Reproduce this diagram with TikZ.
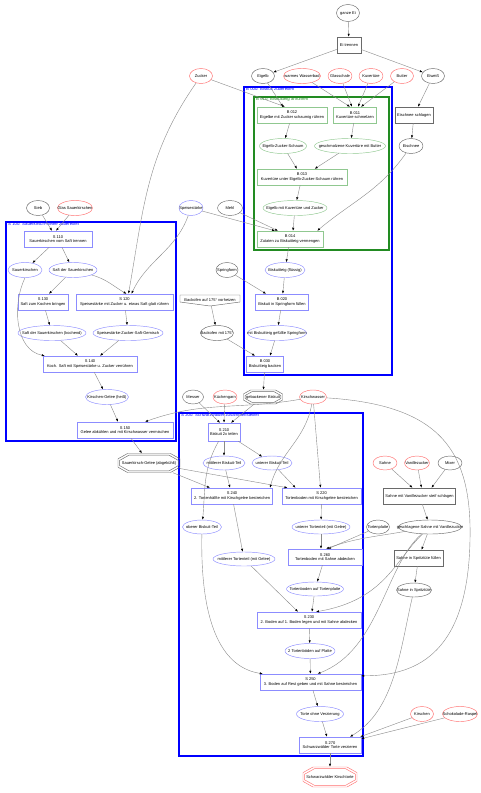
\documentclass[tikz,border=0pt]{standalone}
\usepackage{fontspec}
\setmainfont{Liberation Sans}
\usetikzlibrary{shapes.geometric,arrows.meta}
\definecolor{cblue}{HTML}{0000FF}
\definecolor{nblue}{HTML}{8C8CFF}
\definecolor{cgreen}{HTML}{228B22}
\definecolor{ngreen}{HTML}{90C890}
\definecolor{nred}{HTML}{FF7070}
\definecolor{ngray}{HTML}{6A6A6A}
\definecolor{egray}{HTML}{8A8A8A}
\newcommand\mz[1]{\makebox[0pt]{#1}}
\newcommand\dococt[7]{%
  \node[base, minimum width=#4pt, minimum height=#5pt] (#1) at (#2,#3) {#7};
  \begin{scope}[shift={(#2,#3)}]
    \pgfmathsetmacro\octhw{#4/2}\pgfmathsetmacro\octhh{#5/2}%
    \pgfmathsetmacro\octcx{#5*0.5}\pgfmathsetmacro\octcy{#5*0.28}%
    \draw[#6, line width=0.45pt] (-\octhw+\octcx,-\octhh)--(\octhw-\octcx,-\octhh)--(\octhw,-\octhh+\octcy)--(\octhw,\octhh-\octcy)--(\octhw-\octcx,\octhh)--(-\octhw+\octcx,\octhh)--(-\octhw,\octhh-\octcy)--(-\octhw,-\octhh+\octcy)--cycle;
    \pgfmathsetmacro\octhw{#4/2-1.6}\pgfmathsetmacro\octhh{#5/2-1.6}%
    \draw[#6, line width=0.45pt] (-\octhw+\octcx,-\octhh)--(\octhw-\octcx,-\octhh)--(\octhw,-\octhh+\octcy)--(\octhw,\octhh-\octcy)--(\octhw-\octcx,\octhh)--(-\octhw+\octcx,\octhh)--(-\octhw,\octhh-\octcy)--(-\octhw,-\octhh+\octcy)--cycle;
  \end{scope}}
\begin{document}
\begin{tikzpicture}[x=1pt,y=-1pt,
 base/.style={font=\fontsize{4}{4.6}\selectfont, inner sep=0pt, line width=0.45pt},
 el/.style={base, ellipse, draw=#1, minimum height=15pt},
 bx/.style={base, rectangle, draw=#1, minimum height=16pt, align=center, inner xsep=2pt},
 e/.style={draw=egray, line width=0.4pt, -{Latex[length=3pt,width=2.2pt,color=black]}},
 cl/.style={line width=1.3pt, draw=#1},
 cll/.style={base, font=\fontsize{4.3}{5}\selectfont, anchor=north west, text=#1},
]
\useasboundingbox[fill=white] (0,0) rectangle (480,793);

% clusters
\draw[cl=cblue] (244,87) rectangle (392,375);
\draw[cl=cgreen] (254,97) rectangle (389,250);
\draw[cl=cblue] (6,222) rectangle (176,441);
\draw[cl=cblue] (179,413) rectangle (363,756);
\node[cll=cblue] (lb000) at (246,87.5) {B 000: Biskuit zubereiten};
\node[cll=cgreen] (lb010) at (256,97.5) {B 010: Biskuitteig anrühren};
\node[cll=cblue] (ls100) at (8,222.5) {S 100: Sauerkirsch-Gelee zubereiten};
\node[cll=cblue] (ls200) at (181,413.5) {S 200: Schwarzwälder zusammenstellen};

% top
\node[el=ngray, minimum width=23pt, minimum height=17pt] (ganzeEi) at (348,13) {\mz{ganze Ei}};
\node[bx=ngray, minimum width=24pt] (eitrennen) at (349,45) {Ei trennen};
\node[el=nred, minimum width=23pt] (zucker) at (201,76) {\mz{Zucker}};
\node[el=ngray, minimum width=23pt] (eigelb) at (263,76) {\mz{Eigelb}};
\node[el=nred, minimum width=37pt] (wasserbad) at (302,76) {\mz{warmes Wasserbad}};
\node[el=nred, minimum width=24pt] (glasschale) at (340,76) {\mz{Glasschale}};
\node[el=nred, minimum width=24pt] (kuvert) at (371,76) {\mz{Kuvertüre}};
\node[el=nred, minimum width=23pt] (butter) at (402,76) {\mz{Butter}};
\node[el=ngray, minimum width=23pt] (eiweiss) at (433,76) {\mz{Eiweiß}};
\node[bx=ngray, minimum width=33pt] (eschl) at (414,115) {Eischnee schlagen};
\node[el=ngray, minimum width=24pt] (eischnee) at (411,146) {\mz{Eischnee}};

% B 010
\node[bx=ngreen, minimum width=70pt] (b012) at (292,115) {B 012\\Eigelbe mit Zucker schaumig rühren};
\node[bx=ngreen, minimum width=43pt] (b011) at (355,115) {B 011\\Kuvertüre schmelzen};
\node[el=ngreen, minimum width=47pt] (ezs) at (283,146) {\mz{Eigelb-Zucker-Schaum}};
\node[el=ngreen, minimum width=71pt] (gkb) at (350,146) {\mz{geschmolzene Kuvertüre mit Butter}};
\node[bx=ngreen, minimum width=90pt] (b013) at (302,177) {B 013\\Kuvertüre unter Eigelb-Zucker-Schaum rühren};
\node[el=ngreen, minimum width=64pt] (emkz) at (295,208) {\mz{Eigelb mit Kuvertüre und Zucker}};
\node[bx=ngreen, minimum width=66pt] (b014) at (290,239) {B 014\\Zutaten zu Biskuitteig vermengen};

% B 000 rest
\node[el=nblue, minimum width=24pt] (speisest) at (191,208) {\mz{Speisestärke}};
\node[el=ngray, minimum width=25pt] (mehl) at (230,208) {\mz{Mehl}};
\node[el=nblue, minimum width=40pt] (bfl) at (285,270) {\mz{Biskuitteig (flüssig)}};
\node[el=ngray, minimum width=22pt] (springform) at (227,270) {\mz{Springform}};
\node[bx=nblue, minimum width=53pt] (b020) at (282,302) {B 020\\Biskuit in Springform füllen};
\node[base, minimum width=60pt, minimum height=12pt] (backofenvor) at (210,300) {Backofen auf 175° vorheizen};
\draw[ngray, line width=0.45pt] (180,295)--(240,295)--(240,302)--(210,306)--(180,302)--cycle;
\node[el=ngray, minimum width=33pt] (backofen175) at (217,333) {\mz{Backofen mit 175°}};
\node[el=nblue, minimum width=59pt] (mbgs) at (277,333) {\mz{mit Biskuitteig gefüllte Springform}};
\node[bx=nblue, minimum width=37pt] (b030) at (265,364) {B 030\\Biskuitteig backen};
\dococt{gebBisk}{263}{397}{39}{14}{ngray}{gebackener Biskuit}

% S 100
\node[el=ngray, minimum width=23pt] (sieb) at (38,208) {\mz{Sieb}};
\node[el=nred, minimum width=35pt] (glas) at (75,208) {\mz{Glas Sauerkirschen}};
\node[bx=nblue, minimum width=68pt] (s110) at (58,239) {S 110\\Sauerkirschen vom Saft trennen};
\node[el=nblue, minimum width=34pt] (sauerk) at (25,270) {\mz{Sauerkirschen}};
\node[el=nblue, minimum width=48pt] (sds) at (73,270) {\mz{Saft der Sauerkirschen}};
\node[bx=nblue, minimum width=50pt] (s130) at (43,302) {S 130\\Saft zum Kochen bringen};
\node[bx=nblue, minimum width=97pt] (s120) at (124.5,302) {S 120\\Speisestärke mit Zucker u. etwas Saft glatt rühren};
\node[el=nblue, minimum width=68pt] (sdsk) at (52,333) {\mz{Saft der Sauerkirschen (kochend)}};
\node[el=nblue, minimum width=70pt] (szsg) at (128,333) {\mz{Speisestärke-Zucker-Saft-Gemisch}};
\node[bx=nblue, minimum width=94pt] (s140) at (90,364) {S 140\\Koch. Saft mit Speisestärke u. Zucker verrühren};
\node[el=nblue, minimum width=43pt] (kgh) at (107,397) {\mz{Kirschen-Gelee (heiß)}};
\node[bx=nblue, minimum width=96pt] (s150) at (125,430) {S 150\\Gelee abkühlen und mit Kirschwasser vermischen};
\dococt{sga}{149}{463}{62}{19}{ngray}{Sauerkirsch-Gelee (abgekühlt)}

% row 397
\node[el=ngray, minimum width=21pt, minimum height=14pt] (messer) at (193,397) {\mz{Messer}};
\node[el=nred, minimum width=24pt, minimum height=14pt] (kuechengarn) at (225,397) {\mz{Küchengarn}};
\node[el=nred, minimum width=27pt, minimum height=14pt] (kirschwasser) at (313,397) {\mz{Kirschwasser}};

% S 200
\node[bx=nblue, minimum width=32pt, minimum height=18pt] (s210) at (224,432) {S 210\\Biskuit 2x teilen};
\node[el=nblue, minimum width=42pt, minimum height=14pt] (mbt) at (224,463) {\mz{mittlerer Biskuit-Teil}};
\node[el=nblue, minimum width=40pt, minimum height=14pt] (ubt) at (272,463) {\mz{unterer Biskuit-Teil}};
\node[bx=nblue, minimum width=81pt] (s240) at (232,496) {S 240\\2. Tortenhälfte mit Kirschgelee bestreichen};
\node[bx=nblue, minimum width=79pt] (s220) at (321.5,496) {S 220\\Tortenboden mit Kirschgelee bestreichen};
\node[el=nblue, minimum width=39pt, minimum height=14pt] (obt) at (202,527) {\mz{oberer Biskuit-Teil}};
\node[el=nblue, minimum width=58pt, minimum height=14pt] (utt) at (321,527) {\mz{unterer Tortenteil (mit Gelee)}};
\node[el=ngray, minimum width=23pt, minimum height=14pt] (tortenplatte) at (378,527) {\mz{Tortenplatte}};
\node[el=ngray, minimum width=63pt, minimum height=14pt] (gsv) at (430,527) {\mz{geschlagene Sahne mit Vanillezucker}};
\node[bx=nblue, minimum width=74pt] (s260) at (325,557) {S 260\\Tortenboden mit Sahne abdecken};
\node[el=nblue, minimum width=62pt, minimum height=14pt] (mtt) at (244,559) {\mz{mittlerer Tortenteil (mit Gelee)}};
\node[el=nblue, minimum width=57pt, minimum height=14pt] (tat) at (315,589) {\mz{Tortenboden auf Tortenplatte}};
\node[el=nred, minimum width=24pt, minimum height=14pt] (sahne) at (385,463) {\mz{Sahne}};
\node[el=nred, minimum width=25pt, minimum height=14pt] (vanille) at (417,463) {\mz{Vanillezucker}};
\node[el=ngray, minimum width=24pt, minimum height=14pt] (mixer) at (450,463) {\mz{Mixer}};
\node[bx=ngray, minimum width=55pt] (ssv) at (419.5,496) {Sahne mit Vanillezucker steif schlagen};
\node[bx=ngray, minimum width=43pt] (sisf) at (418.5,558) {Sahne in Spritztüte füllen};
\node[el=ngray, minimum width=35pt, minimum height=14pt] (sis) at (414,590) {\mz{Sahne in Spritztüte}};
\node[bx=nblue, minimum width=104pt] (s230) at (309,620) {S 230\\2. Boden auf 1. Boden legen und mit Sahne abdecken};
\node[el=nblue, minimum width=50pt] (zta) at (310,651) {\mz{2 Tortenböden auf Platte}};
\node[bx=nblue, minimum width=101pt] (s250) at (310.5,682) {S 250\\3. Boden auf Rest geben und mit Sahne bestreichen};
\node[el=nblue, minimum width=47pt] (tov) at (320,714) {\mz{Torte ohne Verzierung}};
\node[el=nred, minimum width=23pt] (kirschen) at (422,714) {\mz{Kirschen}};
\node[el=nred, minimum width=35pt] (schoko) at (460,714) {\mz{Schokolade-Raspel}};
\node[bx=nblue, minimum width=62pt] (s270) at (330,745) {S 270\\Schwarzwälder Torte verzieren};
\dococt{swk}{330}{777}{54}{20}{nred}{Schwarzwälder Kirschtorte}

% edges top
\draw[e] (ganzeEi) -- (eitrennen);
\draw[e] (eitrennen) -- (eigelb);
\draw[e] (eitrennen) -- (eiweiss);
\draw[e] (eiweiss) -- (eschl);
\draw[e] (eschl) -- (eischnee);
\draw[e] (eischnee) to[out=-125,in=40] ([xshift=-6pt]b014.north east);
\draw[e] (eigelb) -- ([xshift=-9pt]b012.north);
\draw[e] (zucker) -- ([xshift=-7pt]b012.north);
\draw[e] (zucker) to[out=-125,in=80] ([xshift=4pt]s120.north);
\draw[e] (speisest) to[out=-110,in=65] ([xshift=7pt]s120.north);
\draw[e] (wasserbad) -- ([xshift=-5pt]b011.north);
\draw[e] (glasschale) -- ([xshift=-3pt]b011.north);
\draw[e] (kuvert) -- ([xshift=3pt]b011.north);
\draw[e] (butter) -- ([xshift=6pt]b011.north);
\draw[e] (b011) -- (gkb);
\draw[e] (b012) -- (ezs);
\draw[e] (ezs) -- (b013);
\draw[e] (gkb) -- (b013);
\draw[e] (b013) -- (emkz);
\draw[e] (emkz) -- ([xshift=3pt]b014.north);
\draw[e] (speisest) -- ([xshift=-15pt]b014.north);
\draw[e] (mehl) -- ([xshift=-12pt]b014.north);
\draw[e] (b014) -- (bfl);
\draw[e] (bfl) -- (b020);
\draw[e] (springform) -- ([xshift=-16pt]b020.north);
\draw[e] (b020) -- (mbgs);
\draw[e] (backofenvor) -- (backofen175);
\draw[e] (backofen175) -- ([xshift=-10pt]b030.north);
\draw[e] (mbgs) -- ([xshift=5pt]b030.north);
\draw[e] (b030) -- (gebBisk);

% edges S 100
\draw[e] (sieb) -- ([xshift=-6pt]s110.north);
\draw[e] (glas) -- ([xshift=-2pt]s110.north);
\draw[e] (s110) -- (sauerk);
\draw[e] (s110) -- (sds);
\draw[e] (sds) -- ([xshift=6pt]s130.north);
\draw[e] (sds) to[out=-15,in=150] ([xshift=2pt]s120.north);
\draw[e] (s130) -- (sdsk);
\draw[e] (s120) -- (szsg);
\draw[e] (sdsk) -- ([xshift=-12pt]s140.north);
\draw[e] (szsg) -- ([xshift=10pt]s140.north);
\draw[e] (sauerk.south) .. controls (12,305) and (15,350) .. ([xshift=2pt]s140.north west);
\draw[e] (s140) -- (kgh);
\draw[e] (kgh) -- ([xshift=-7pt]s150.north);
\draw[e] (kirschwasser) to[out=190,in=20] ([xshift=20pt]s150.north);
\draw[e] (s150) -- (sga);

% edges S 200
\draw[e] (messer) -- ([xshift=-4pt]s210.north);
\draw[e] (kuechengarn) -- (s210.north);
\draw[e] (gebBisk) -- ([xshift=7pt]s210.north);
\draw[e] (s210) -- (mbt);
\draw[e] (s210) -- (ubt);
\draw[e] (s210) to[out=-120,in=85] (obt);
\draw[e] (mbt) -- (s240);
\draw[e] (ubt) -- ([xshift=-26pt]s220.north);
\draw[e] (sga) -- ([xshift=-22pt]s240.north);
\draw[e] (sga) -- ([xshift=-34pt]s220.north);
\draw[e] (kirschwasser) to[out=-100,in=75] ([xshift=38pt]s240.north);
\draw[e] (kirschwasser) -- ([xshift=-1pt]s220.north);
\draw[e] (kirschwasser) .. controls (440,405) and (472,450) .. (470,540) .. controls (468,650) and (420,676) .. ([yshift=-2pt]s250.north east);
\draw[e] (s220) -- (utt);
\draw[e] (utt) -- ([xshift=-4pt]s260.north);
\draw[e] (tortenplatte) -- ([xshift=3pt]s260.north);
\draw[e] (gsv) to[out=190,in=20] ([xshift=1pt]s260.north);
\draw[e] (s260) -- (tat);
\draw[e] (s240) -- (mtt);
\draw[e] (mtt) -- ([xshift=-11pt]s230.north);
\draw[e] (tat) -- ([xshift=3pt]s230.north);
\draw[e] (gsv) .. controls (395,560) and (385,600) .. ([xshift=7pt]s230.north);
\draw[e] (gsv) .. controls (385,565) and (380,650) .. ([xshift=7pt]s250.north);
\draw[e] (s230) -- (zta);
\draw[e] (zta) -- (s250);
\draw[e] (obt) .. controls (200,630) and (225,668) .. ([xshift=3pt]s250.north west);
\draw[e] (s250) -- (tov);
\draw[e] (tov) -- ([xshift=-3pt]s270.north);
\draw[e] (sis) .. controls (400,650) and (395,710) .. ([xshift=20pt]s270.north);
\draw[e] (kirschen) -- ([xshift=-1pt]s270.north east);
\draw[e] (schoko) -- ([yshift=-2pt]s270.north east);
\draw[e] (s270) -- (swk);
\draw[e] (sahne) -- ([xshift=-7pt]ssv.north);
\draw[e] (vanille) -- ([xshift=2pt]ssv.north);
\draw[e] (mixer) -- ([xshift=12pt]ssv.north);
\draw[e] (ssv) -- (gsv);
\draw[e] (gsv) -- (sisf);
\draw[e] (sisf) -- (sis);
\end{tikzpicture}
\end{document}
